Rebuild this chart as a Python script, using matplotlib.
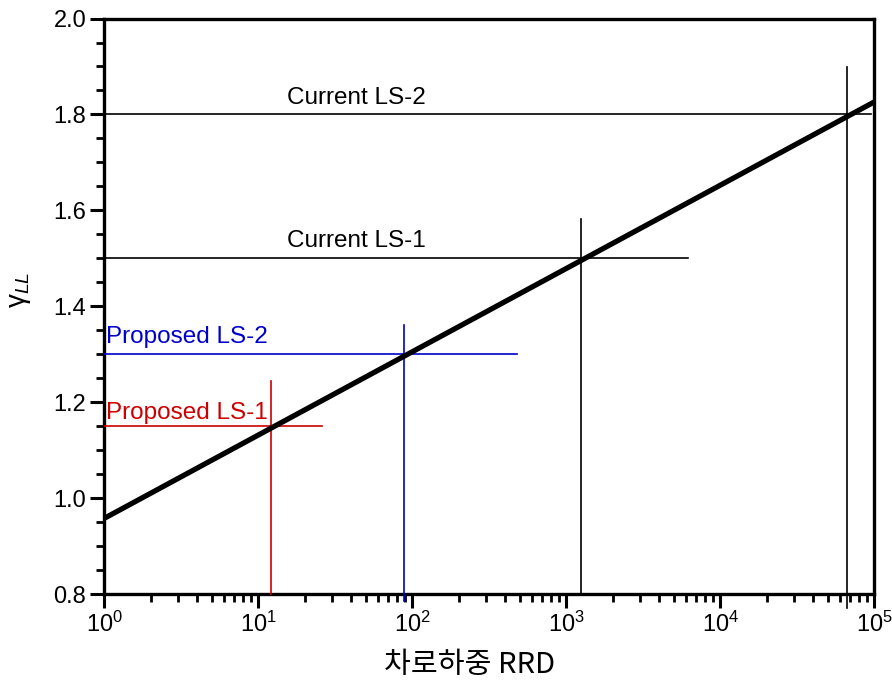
import matplotlib
matplotlib.use("Agg")
import matplotlib.pyplot as plt
from matplotlib.ticker import LogLocator, MultipleLocator

plt.rcParams['font.family'] = ['Liberation Sans', 'DejaVu Sans']
plt.rcParams['mathtext.fontset'] = 'custom'
plt.rcParams['mathtext.rm'] = 'Liberation Sans'
plt.rcParams['mathtext.it'] = 'Liberation Sans:italic'

# main relation line
line_x = [1, 1e5]
line_y = [0.958, 1.826]

# limit-state levels
levels = [1.15, 1.30, 1.50, 1.80]
level_names = ["Proposed LS-1", "Proposed LS-2", "Current LS-1", "Current LS-2"]
level_colors = ["#cc0000", "#0000cc", "black", "black"]
h_end = [26, 480, 6200, 95000]          # right end of horizontal lines
v_x = [12, 88, 1250, 67000]             # x of vertical lines
v_top = [1.244, 1.361, 1.582, 1.899]    # top of vertical lines
v_bottom = [0.8, 0.785, 0.8, 0.772]
label_x = [1.03, 1.03, 15.3, 15.3]
label_y = [1.165, 1.323, 1.524, 1.822]

fig = plt.figure(figsize=(8.92, 6.86), dpi=100)
ax = fig.add_axes([0.117, 0.134, 0.863, 0.839])

ax.plot(line_x, line_y, color='black', lw=3.8, solid_capstyle='butt', zorder=5)

for lv, nm, c, he, vx, vt, vb, lx, ly in zip(levels, level_names, level_colors, h_end,
                                            v_x, v_top, v_bottom, label_x, label_y):
    ax.plot([1, he], [lv, lv], color=c, lw=1.2, zorder=3)
    ax.plot([vx, vx], [vb, vt], color=c, lw=1.2, zorder=3, clip_on=False)
    ax.text(lx, ly, nm, color=c, fontsize=17.5, va='baseline', ha='left')

ax.set_xscale('log')
ax.set_xlim(1, 1e5)
ax.set_ylim(0.8, 2.0)
ax.yaxis.set_major_locator(MultipleLocator(0.2))
ax.yaxis.set_minor_locator(MultipleLocator(0.05))
ax.yaxis.set_major_formatter(matplotlib.ticker.FormatStrFormatter('%.1f'))
ax.xaxis.set_major_locator(LogLocator(base=10, numticks=10))
ax.xaxis.set_minor_locator(LogLocator(base=10, subs=range(2, 10), numticks=20))

for s in ax.spines.values():
    s.set_linewidth(2.4)
ax.tick_params(which='major', direction='out', length=10, width=2.2, labelsize=17, pad=3,
               top=False, right=False)
ax.tick_params(which='minor', direction='out', length=6, width=2.0,
               top=False, right=False)

ax.set_xlabel("차로하중 RRD", family=['Noto Sans CJK KR', 'DejaVu Sans'], fontsize=21,
              va='center')
ax.xaxis.set_label_coords(0.475, -0.123)
ax.set_ylabel('γ$_{LL}$', fontsize=20, va='center')
ax.yaxis.set_label_coords(-0.11, 0.528)

fig.savefig("out.png", dpi=100)
